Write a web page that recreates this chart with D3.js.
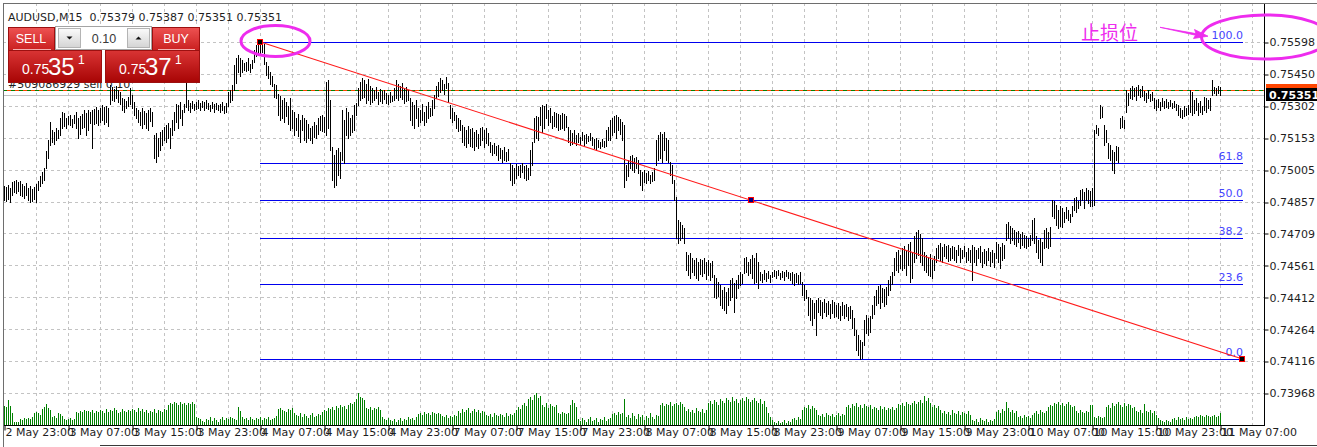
<!DOCTYPE html>
<html><head><meta charset="utf-8">
<script src="https://cdn.jsdelivr.net/npm/d3@7"></script>
<style>html,body{margin:0;padding:0;background:#fff;overflow:hidden}svg{display:block}</style>
</head><body><svg id="c" width="1317" height="447"></svg>
<script>
const symbol = "AUDUSD,M15";
const lastOHLC = ["0.75379","0.75387","0.75351","0.75351"];
const orderText = "#509086929 sell 0.10";
const lotSize = "0.10";
const sellQuote = ["0.75","35","1"];
const buyQuote = ["0.75","37","1"];
const bidPrice = 0.75351;
const orderPrice = 0.75377;
const priceTicks = [0.75598,0.75450,0.75302,0.75153,0.75005,0.74857,0.74709,0.74561,0.74412,0.74264,0.74116,0.73968];
const timeLabels = ["2 May 23:00","3 May 07:00","3 May 15:00","3 May 23:00","4 May 07:00","4 May 15:00","4 May 23:00","7 May 07:00","7 May 15:00","7 May 23:00","8 May 07:00","8 May 15:00","8 May 23:00","9 May 07:00","9 May 15:00","9 May 23:00","10 May 07:00","10 May 15:00","10 May 23:00","11 May 07:00"];
const barsPerLabel = 32;
const fibLevels = [100.0, 61.8, 50.0, 38.2, 23.6, 0.0];
const fibHigh = 0.75598, fibLow = 0.74126, fibStartBar = 128, fibEndBar = 619;
const noteText = "止损位";

const highs = [
0.74929,0.74925,0.74934,0.74920,0.74948,0.74953,0.74957,0.74948,0.74953,0.74939,
0.74929,0.74943,0.74920,0.74929,0.74915,0.74925,0.74939,0.74953,0.74976,0.74994,
0.75013,0.75092,0.75143,0.75227,0.75189,0.75180,0.75199,0.75189,0.75245,0.75273,
0.75268,0.75245,0.75254,0.75259,0.75240,0.75259,0.75273,0.75245,0.75254,0.75264,
0.75282,0.75268,0.75282,0.75273,0.75282,0.75287,0.75296,0.75282,0.75291,0.75305,
0.75296,0.75301,0.75291,0.75398,0.75389,0.75380,0.75394,0.75375,0.75366,0.75338,
0.75333,0.75324,0.75343,0.75384,0.75352,0.75319,0.75291,0.75282,0.75273,0.75291,
0.75278,0.75268,0.75282,0.75291,0.75273,0.75166,0.75175,0.75152,0.75180,0.75189,
0.75203,0.75213,0.75222,0.75199,0.75236,0.75273,0.75310,0.75305,0.75319,0.75282,
0.75310,0.75412,0.75329,0.75315,0.75324,0.75310,0.75319,0.75329,0.75315,0.75324,
0.75319,0.75329,0.75315,0.75305,0.75319,0.75310,0.75315,0.75305,0.75310,0.75319,
0.75301,0.75315,0.75366,0.75375,0.75398,0.75491,0.75524,0.75538,0.75524,0.75514,
0.75500,0.75505,0.75524,0.75496,0.75514,0.75561,0.75584,0.75593,0.75598,0.75589,
0.75589,0.75505,0.75486,0.75459,0.75440,0.75403,0.75398,0.75356,0.75347,0.75329,
0.75338,0.75319,0.75301,0.75338,0.75282,0.75273,0.75245,0.75264,0.75236,0.75259,
0.75245,0.75236,0.75217,0.75199,0.75208,0.75227,0.75213,0.75245,0.75254,0.75259,
0.75250,0.75412,0.75421,0.75329,0.75110,0.75073,0.75096,0.75106,0.75087,0.75282,
0.75236,0.75291,0.75273,0.75245,0.75259,0.75305,0.75315,0.75384,0.75412,0.75431,
0.75421,0.75403,0.75426,0.75394,0.75384,0.75375,0.75389,0.75366,0.75380,0.75370,
0.75375,0.75361,0.75352,0.75366,0.75347,0.75384,0.75421,0.75403,0.75394,0.75408,
0.75384,0.75389,0.75375,0.75338,0.75319,0.75305,0.75329,0.75291,0.75282,0.75310,
0.75273,0.75301,0.75319,0.75291,0.75329,0.75352,0.75394,0.75412,0.75431,0.75421,
0.75403,0.75435,0.75408,0.75305,0.75291,0.75273,0.75259,0.75245,0.75236,0.75213,
0.75203,0.75189,0.75208,0.75194,0.75199,0.75180,0.75189,0.75171,0.75199,0.75203,
0.75189,0.75199,0.75175,0.75134,0.75120,0.75129,0.75115,0.75120,0.75106,0.75096,
0.75110,0.75087,0.75101,0.75036,0.75027,0.75013,0.75031,0.75022,0.75027,0.75036,
0.75022,0.75027,0.75013,0.75096,0.75134,0.75245,0.75254,0.75250,0.75296,0.75305,
0.75301,0.75310,0.75282,0.75291,0.75254,0.75273,0.75268,0.75264,0.75259,0.75268,
0.75264,0.75254,0.75203,0.75189,0.75175,0.75189,0.75166,0.75175,0.75157,0.75180,
0.75166,0.75171,0.75161,0.75175,0.75157,0.75148,0.75152,0.75143,0.75134,0.75148,
0.75138,0.75189,0.75203,0.75236,0.75245,0.75254,0.75259,0.75250,0.75240,0.75227,
0.75213,0.75027,0.75050,0.75069,0.75073,0.75059,0.75064,0.75050,0.75004,0.74994,
0.75004,0.74990,0.74999,0.74980,0.74994,0.75013,0.75143,0.75166,0.75180,0.75171,
0.75180,0.75152,0.75143,0.75041,0.75027,0.74957,0.74878,0.74771,0.74762,0.74748,
0.74734,0.74623,0.74609,0.74618,0.74595,0.74586,0.74595,0.74576,0.74590,0.74586,
0.74595,0.74576,0.74586,0.74572,0.74581,0.74516,0.74502,0.74483,0.74469,0.74446,
0.74460,0.74437,0.74455,0.74493,0.74502,0.74479,0.74493,0.74516,0.74530,0.74520,
0.74595,0.74599,0.74576,0.74590,0.74609,0.74595,0.74618,0.74576,0.74530,0.74520,
0.74539,0.74525,0.74534,0.74516,0.74530,0.74539,0.74534,0.74539,0.74525,0.74534,
0.74530,0.74539,0.74530,0.74525,0.74530,0.74520,0.74525,0.74516,0.74530,0.74483,
0.74469,0.74446,0.74414,0.74409,0.74400,0.74386,0.74400,0.74409,0.74400,0.74390,
0.74404,0.74386,0.74395,0.74381,0.74400,0.74390,0.74377,0.74386,0.74372,0.74390,
0.74377,0.74381,0.74367,0.74372,0.74353,0.74316,0.74260,0.74237,0.74214,0.74205,
0.74307,0.74330,0.74316,0.74325,0.74377,0.74418,0.74446,0.74465,0.74469,0.74455,
0.74451,0.74460,0.74493,0.74511,0.74530,0.74595,0.74623,0.74632,0.74609,0.74641,
0.74651,0.74632,0.74660,0.74669,0.74623,0.74697,0.74716,0.74725,0.74706,0.74688,
0.74623,0.74609,0.74595,0.74613,0.74586,0.74604,0.74641,0.74655,0.74664,0.74646,
0.74660,0.74651,0.74655,0.74641,0.74651,0.74646,0.74632,0.74655,0.74641,0.74632,
0.74651,0.74623,0.74641,0.74632,0.74655,0.74646,0.74632,0.74641,0.74651,0.74623,
0.74637,0.74627,0.74641,0.74623,0.74632,0.74618,0.74669,0.74660,0.74646,0.74664,
0.74655,0.74753,0.74762,0.74743,0.74734,0.74725,0.74716,0.74720,0.74706,0.74716,
0.74702,0.74697,0.74688,0.74702,0.74771,0.74781,0.74697,0.74678,0.74688,0.74669,
0.74725,0.74734,0.74716,0.74739,0.74864,0.74860,0.74841,0.74818,0.74836,0.74827,
0.74809,0.74832,0.74818,0.74799,0.74836,0.74874,0.74878,0.74860,0.74911,0.74915,
0.74901,0.74920,0.74911,0.74906,0.74920,0.75189,0.75213,0.75199,0.75305,0.75296,
0.75213,0.75189,0.75129,0.75120,0.75096,0.75087,0.75115,0.75110,0.75245,0.75254,
0.75236,0.75375,0.75361,0.75384,0.75394,0.75384,0.75389,0.75398,0.75380,0.75394,
0.75370,0.75361,0.75375,0.75356,0.75366,0.75338,0.75329,0.75333,0.75319,0.75338,
0.75324,0.75333,0.75319,0.75329,0.75315,0.75324,0.75310,0.75305,0.75291,0.75282,
0.75301,0.75291,0.75305,0.75375,0.75366,0.75329,0.75338,0.75315,0.75324,0.75301,
0.75343,0.75338,0.75329,0.75338,0.75421,0.75389,0.75384,0.75394,0.75387];

const lows = [
0.74864,0.74860,0.74869,0.74855,0.74887,0.74901,0.74897,0.74906,0.74887,0.74883,
0.74874,0.74887,0.74864,0.74855,0.74860,0.74869,0.74855,0.74911,0.74929,0.74943,
0.74957,0.75013,0.75059,0.75120,0.75134,0.75124,0.75143,0.75152,0.75166,0.75199,
0.75208,0.75199,0.75217,0.75213,0.75203,0.75222,0.75199,0.75152,0.75171,0.75199,
0.75203,0.75166,0.75189,0.75222,0.75106,0.75217,0.75222,0.75213,0.75227,0.75236,
0.75217,0.75227,0.75208,0.75310,0.75329,0.75324,0.75338,0.75319,0.75310,0.75282,
0.75273,0.75291,0.75301,0.75310,0.75291,0.75259,0.75245,0.75227,0.75213,0.75199,
0.75217,0.75199,0.75189,0.75231,0.75208,0.75059,0.75041,0.75069,0.75096,0.75120,
0.75143,0.75134,0.75152,0.75106,0.75166,0.75189,0.75227,0.75199,0.75245,0.75213,
0.75273,0.75296,0.75282,0.75273,0.75291,0.75282,0.75287,0.75291,0.75282,0.75296,
0.75282,0.75291,0.75287,0.75278,0.75291,0.75273,0.75287,0.75282,0.75273,0.75282,
0.75268,0.75273,0.75301,0.75319,0.75329,0.75375,0.75408,0.75459,0.75440,0.75459,
0.75468,0.75463,0.75468,0.75459,0.75477,0.75505,0.75533,0.75542,0.75547,0.75551,
0.75496,0.75445,0.75431,0.75403,0.75394,0.75343,0.75338,0.75259,0.75236,0.75245,
0.75227,0.75254,0.75217,0.75189,0.75199,0.75166,0.75189,0.75161,0.75134,0.75189,
0.75143,0.75134,0.75152,0.75143,0.75129,0.75157,0.75152,0.75171,0.75189,0.75185,
0.75180,0.75166,0.75199,0.75096,0.74957,0.74925,0.74934,0.74980,0.74967,0.75050,
0.75036,0.75166,0.75152,0.75166,0.75180,0.75189,0.75259,0.75305,0.75329,0.75338,
0.75343,0.75315,0.75329,0.75310,0.75319,0.75329,0.75338,0.75310,0.75324,0.75315,
0.75333,0.75315,0.75310,0.75319,0.75324,0.75329,0.75338,0.75329,0.75343,0.75333,
0.75315,0.75324,0.75329,0.75236,0.75213,0.75199,0.75245,0.75208,0.75227,0.75236,
0.75213,0.75227,0.75245,0.75254,0.75259,0.75291,0.75338,0.75347,0.75366,0.75375,
0.75356,0.75384,0.75319,0.75245,0.75227,0.75236,0.75199,0.75185,0.75189,0.75134,
0.75120,0.75110,0.75129,0.75115,0.75110,0.75096,0.75115,0.75106,0.75120,0.75143,
0.75110,0.75129,0.75120,0.75087,0.75073,0.75082,0.75073,0.75050,0.75059,0.75041,
0.75050,0.75045,0.75050,0.74957,0.74934,0.74943,0.74967,0.74980,0.74971,0.74994,
0.74967,0.74957,0.74962,0.74980,0.75027,0.75134,0.75152,0.75143,0.75213,0.75180,
0.75199,0.75245,0.75213,0.75227,0.75199,0.75208,0.75203,0.75189,0.75194,0.75199,
0.75189,0.75203,0.75134,0.75120,0.75124,0.75129,0.75120,0.75134,0.75124,0.75143,
0.75120,0.75129,0.75138,0.75143,0.75120,0.75106,0.75096,0.75110,0.75106,0.75115,
0.75110,0.75115,0.75143,0.75143,0.75166,0.75180,0.75152,0.75189,0.75171,0.75143,
0.74925,0.74957,0.74976,0.75013,0.75004,0.74994,0.75013,0.74990,0.74934,0.74911,
0.74948,0.74943,0.74957,0.74943,0.74953,0.74957,0.75027,0.75050,0.75059,0.75041,
0.75096,0.75050,0.75041,0.74980,0.74943,0.74864,0.74688,0.74664,0.74678,0.74688,
0.74664,0.74539,0.74516,0.74502,0.74530,0.74516,0.74502,0.74493,0.74520,0.74511,
0.74525,0.74497,0.74516,0.74493,0.74507,0.74414,0.74409,0.74418,0.74377,0.74363,
0.74353,0.74339,0.74377,0.74400,0.74414,0.74344,0.74409,0.74455,0.74469,0.74479,
0.74525,0.74530,0.74516,0.74525,0.74502,0.74479,0.74483,0.74455,0.74493,0.74483,
0.74497,0.74488,0.74502,0.74483,0.74507,0.74511,0.74502,0.74516,0.74497,0.74507,
0.74493,0.74511,0.74502,0.74493,0.74479,0.74469,0.74483,0.74474,0.74479,0.74423,
0.74400,0.74409,0.74330,0.74307,0.74284,0.74316,0.74237,0.74344,0.74330,0.74316,
0.74344,0.74325,0.74335,0.74316,0.74339,0.74321,0.74325,0.74316,0.74307,0.74330,
0.74316,0.74325,0.74307,0.74316,0.74270,0.74237,0.74168,0.74144,0.74126,0.74130,
0.74191,0.74246,0.74237,0.74251,0.74316,0.74335,0.74377,0.74386,0.74363,0.74390,
0.74372,0.74381,0.74423,0.74446,0.74474,0.74516,0.74539,0.74530,0.74548,0.74539,
0.74548,0.74516,0.74562,0.74483,0.74502,0.74576,0.74595,0.74609,0.74576,0.74562,
0.74539,0.74530,0.74516,0.74511,0.74502,0.74539,0.74576,0.74595,0.74586,0.74576,
0.74604,0.74595,0.74581,0.74586,0.74595,0.74586,0.74576,0.74609,0.74576,0.74595,
0.74604,0.74576,0.74586,0.74576,0.74493,0.74576,0.74562,0.74595,0.74576,0.74553,
0.74572,0.74562,0.74586,0.74558,0.74576,0.74553,0.74595,0.74576,0.74548,0.74586,
0.74595,0.74678,0.74688,0.74664,0.74678,0.74660,0.74651,0.74669,0.74641,0.74655,
0.74646,0.74641,0.74651,0.74655,0.74678,0.74664,0.74623,0.74595,0.74576,0.74562,
0.74641,0.74646,0.74641,0.74651,0.74790,0.74781,0.74748,0.74734,0.74743,0.74739,
0.74762,0.74781,0.74771,0.74762,0.74790,0.74818,0.74809,0.74827,0.74841,0.74864,
0.74827,0.74864,0.74850,0.74836,0.74836,0.74841,0.75175,0.75166,0.75245,0.75250,
0.75120,0.75134,0.75059,0.75050,0.75004,0.74990,0.75050,0.75041,0.75199,0.75203,
0.75199,0.75273,0.75305,0.75338,0.75333,0.75347,0.75329,0.75352,0.75343,0.75347,
0.75329,0.75319,0.75338,0.75324,0.75329,0.75291,0.75282,0.75296,0.75282,0.75301,
0.75291,0.75296,0.75291,0.75301,0.75291,0.75296,0.75282,0.75259,0.75250,0.75245,
0.75254,0.75259,0.75264,0.75273,0.75259,0.75268,0.75282,0.75259,0.75273,0.75264,
0.75282,0.75273,0.75291,0.75282,0.75352,0.75361,0.75352,0.75361,0.75351];

const volumes = [
760,720,1000,760,480,120,120,120,240,200,280,240,280,240,320,480,520,480,400,
640,720,840,680,600,320,360,280,480,440,360,240,200,240,280,200,240,
520,480,560,520,600,560,560,520,600,480,560,520,600,
560,480,640,520,600,560,680,600,480,520,640,560,520,600,560,640,
600,520,680,560,640,520,600,480,560,520,640,480,600,560,520,640,600,
800,880,840,920,880,800,920,840,880,800,880,840,920,840,320,280,240,
160,120,240,200,320,160,280,200,120,240,320,200,280,240,320,280,240,200,720,560,
320,240,280,200,320,240,200,280,240,320,200,280,240,320,200,240,280,360,
640,680,600,560,520,640,600,680,480,400,360,480,320,440,360,280,400,480,320,360,440,400,
520,600,560,680,640,720,600,760,680,800,720,760,640,800,880,840,920,
1040,1280,1120,1080,1000,680,640,720,600,680,640,720,600,320,240,200,280,200,
160,240,120,200,280,160,240,200,320,240,280,200,320,
440,480,400,520,440,480,400,520,480,440,480,440,360,320,400,280,360,320,400,360,
560,480,640,520,600,680,480,560,640,520,600,480,560,520,
400,360,440,320,480,400,360,440,400,320,480,360,440,400,480,
600,720,640,800,880,760,1040,1120,1000,1200,1280,1080,1160,
800,720,880,680,840,760,720,800,480,440,520,480,440,480,800,1000,880,720,
240,160,280,200,120,240,320,160,200,280,120,240,200,320,160,240,280,
440,480,400,520,440,480,1040,
320,400,280,480,360,240,440,320,400,200,360,280,480,320,240,400,360,
800,880,760,840,800,920,760,840,880,800,920,840,720,
560,640,520,600,480,680,560,520,640,480,600,
880,960,840,1000,920,800,1040,960,880,1080,1000,920,1120,960,1040,880,1000,1080,960,1120,1040,920,1000,1080,960,880,1040,840,960,
720,480,320,200,120,80,160,80,120,200,80,160,120,240,280,200,320,240,
600,720,680,800,640,760,680,600,400,360,440,320,480,400,360,440,320,400,480,360,440,400,
720,800,680,840,760,880,720,800,680,840,760,720,800,
640,720,680,600,760,640,720,600,680,640,720,600,680,
840,800,880,760,920,840,800,880,960,840,920,1000,880,1160,960,
1080,880,720,800,680,760,600,
480,560,440,520,400,600,480,440,560,400,520,480,440,560,400,
200,160,240,120,280,200,160,240,120,200,160,240,
520,600,480,640,560,920,680,520,600,480,560,
320,360,280,400,320,360,280,400,480,560,440,600,520,480,560,
720,800,760,880,840,920,800,880,760,840,920,800,720,760,
560,480,600,520,480,560,520,800,800,320,280,360,320,280,320,
720,800,680,880,760,840,920,800,720,880,760,840,800,680,720,
560,520,600,480,840,560,520,600,480,560,400,280,200,160,120,200,160,120,
240,280,200,320,240,280,200,320,240,280,240,320,
360,320,400,360,320,400,360,320,360,400,320,360,480];

// ---------------- drawing ----------------
const W = 1317, H = 447;
const P = {l:3, t:3, r:1264, b:425};
const FONT = "DejaVu Sans, sans-serif";
const svg = d3.select("#c");
const defs = svg.append("defs");
defs.append("clipPath").attr("id","clip").append("rect")
  .attr("x",P.l+1).attr("y",P.t+1).attr("width",P.r-P.l-1).attr("height",P.b-P.t-1);

const x = d3.scaleLinear().domain([0,1]).range([4,6]);           // bar index -> px
const y = d3.scaleLinear().domain([d3.min(priceTicks), d3.max(priceTicks)]).range([393,42]);
const yv = d3.scaleLinear().domain([0,1600]).range([P.b,P.b-40]);
const R = v => Math.round(v);

svg.append("rect").attr("width",W).attr("height",H).attr("fill","#ffffff");

const plot = svg.append("g").attr("clip-path","url(#clip)");

// grid
const grid = plot.append("g").attr("stroke","#c3c3c3").attr("stroke-dasharray","3,3").attr("shape-rendering","crispEdges");
priceTicks.forEach(t => grid.append("line").attr("x1",P.l).attr("x2",P.r).attr("y1",R(y(t))+0.5).attr("y2",R(y(t))+0.5));
for (let i = 16; x(i) < P.r; i += 16) grid.append("line").attr("x1",x(i)+0.5).attr("x2",x(i)+0.5).attr("y1",P.t).attr("y2",P.b);

// volumes
plot.append("g").attr("fill","#008000").attr("shape-rendering","crispEdges")
  .selectAll("rect").data(volumes).join("rect")
  .attr("x",(d,i)=>x(i)).attr("width",1)
  .attr("y",d=>R(yv(d))).attr("height",d=>P.b-R(yv(d)));

// fibonacci levels
const fibG = plot.append("g");
const fx1 = x(fibStartBar), fx2 = x(fibEndBar);
fibLevels.forEach(l => {
  const p = fibLow + (fibHigh - fibLow) * l / 100;
  const yy = R(y(p)) + 0.5;
  fibG.append("line").attr("x1",fx1).attr("x2",fx2+1).attr("y1",yy).attr("y2",yy)
    .attr("stroke","#0000ee").attr("stroke-width",1).attr("shape-rendering","crispEdges");
  fibG.append("text").attr("x",fx2+1).attr("y",yy-4).attr("text-anchor","end")
    .attr("font-family",FONT).attr("font-size",11).attr("fill","#4646ff").text(l.toFixed(1));
});

// bid line & order lines
const yb = R(y(bidPrice)) + 0.5;
plot.append("line").attr("x1",P.l).attr("x2",P.r).attr("y1",yb).attr("y2",yb)
  .attr("stroke","#c0c0c0").attr("shape-rendering","crispEdges");
const yo = R(y(orderPrice)) + 0.5;
plot.append("line").attr("x1",P.l).attr("x2",P.r).attr("y1",yo).attr("y2",yo)
  .attr("stroke","#ff4500").attr("stroke-dasharray","4,4").attr("stroke-dashoffset",4).attr("shape-rendering","crispEdges");
plot.append("line").attr("x1",P.l).attr("x2",P.r).attr("y1",yo).attr("y2",yo)
  .attr("stroke","#008000").attr("stroke-dasharray","4,4").attr("shape-rendering","crispEdges");

// price bars
plot.append("g").attr("fill","#000").attr("shape-rendering","crispEdges")
  .selectAll("rect").data(highs).join("rect")
  .attr("x",(d,i)=>x(i)).attr("width",1)
  .attr("y",d=>R(y(d)))
  .attr("height",(d,i)=>Math.max(1, R(y(lows[i])) - R(y(d)) + 1));

// trend line of the fibo object
const tx1 = x(fibStartBar)+0.5, ty1 = y(fibHigh), tx2 = x(fibEndBar)+0.5, ty2 = y(fibLow);
plot.append("line").attr("x1",tx1).attr("y1",ty1).attr("x2",tx2).attr("y2",ty2)
  .attr("stroke","#ff1a1a").attr("stroke-width",1.1);
const midBar = (fibStartBar + fibEndBar) / 2, midP = (fibHigh + fibLow) / 2;
[[x(fibStartBar), fibHigh, "#000"], [x(fibEndBar), fibLow, "#000"], [x(midBar), midP, "#000080"]].forEach(([px, p, c]) => {
  plot.append("rect").attr("x",R(px)-2.5).attr("y",R(y(p))-2.5).attr("width",5).attr("height",5)
    .attr("fill",c).attr("stroke","#ff0000").attr("stroke-width",1);
});

// title & order text
const txt = svg.append("g").attr("font-family",FONT).attr("font-size",11).attr("fill","#1e1e1e");
txt.append("text").attr("x",8).attr("y",20.5).attr("xml:space","preserve")
  .text(symbol + "  " + lastOHLC.join(" "));
txt.append("text").attr("x",8).attr("y",yo-3).text(orderText);

// one-click trading panel
function grad(id, c1, c2) {
  const g = defs.append("linearGradient").attr("id",id).attr("x1",0).attr("y1",0).attr("x2",0).attr("y2",1);
  g.append("stop").attr("offset","0%").attr("stop-color",c1);
  g.append("stop").attr("offset","100%").attr("stop-color",c2);
}
grad("gTab","#ee5252","#c91f1f");
grad("gBig","#d93434","#a70404");
grad("gBtn","#fbfbfb","#d4d4d4");
const pan = svg.append("g").attr("font-family","Liberation Sans, Arial, sans-serif").attr("fill","#fff");
function redBox(x0, y0, w, h, g) {
  pan.append("rect").attr("x",x0+0.5).attr("y",y0+0.5).attr("width",w-1).attr("height",h-1)
    .attr("fill",`url(#${g})`).attr("stroke","#9c1010").attr("stroke-width",1);
}
redBox(8, 27, 47, 24, "gTab");
redBox(8, 50, 94, 33, "gBig");
redBox(152, 27, 48, 24, "gTab");
redBox(105, 50, 95, 33, "gBig");
pan.append("text").attr("x",31).attr("y",43).attr("text-anchor","middle").attr("font-size",12.5).text("SELL");
pan.append("line").attr("x1",13).attr("x2",51).attr("y1",49.5).attr("y2",49.5).attr("stroke","#f4b0b0");
pan.append("text").attr("x",176).attr("y",43).attr("text-anchor","middle").attr("font-size",12.5).text("BUY");
pan.append("line").attr("x1",158).attr("x2",195).attr("y1",49.5).attr("y2",49.5).attr("stroke","#f4b0b0");
function quote(x0, q) {
  pan.append("text").attr("x",x0).attr("y",74).attr("font-size",14).text(q[0]);
  pan.append("text").attr("x",x0+26).attr("y",74.5).attr("font-size",24).text(q[1]);
  pan.append("text").attr("x",x0+56).attr("y",64).attr("font-size",12).text(q[2]);
}
quote(22, sellQuote);
quote(119, buyQuote);
// lot spinner
pan.append("rect").attr("x",55.5).attr("y",26.5).attr("width",96).attr("height",23).attr("fill","#fff").attr("stroke","#a4a4a4");
[[58,"d"],[127,"u"]].forEach(([bx, dir]) => {
  pan.append("rect").attr("x",bx+0.5).attr("y",28.5).attr("width",22).attr("height",19)
    .attr("fill","url(#gBtn)").attr("stroke","#b4b4b4");
  const cx = bx + 11.5, cy = 38;
  const pts = dir === "d" ? [[cx-3,cy-1.5],[cx+3,cy-1.5],[cx,cy+1.5]] : [[cx-3,cy+1.5],[cx+3,cy+1.5],[cx,cy-1.5]];
  pan.append("path").attr("d","M"+pts.map(p=>p.join(",")).join("L")+"Z").attr("fill","#111");
});
pan.append("text").attr("x",104).attr("y",43).attr("text-anchor","middle").attr("font-size",12.5)
  .attr("fill","#3a3a3a").text(lotSize);

// axes
const axR = svg.append("g").attr("transform",`translate(${P.r+0.5},0)`)
  .call(d3.axisRight(y).tickValues(priceTicks).tickFormat(d3.format(".5f")).tickSize(4).tickSizeOuter(0));
axR.select(".domain").remove();
axR.selectAll(".tick line").attr("stroke","#000").attr("transform",d=>`translate(0,${R(y(d))+0.5-y(d)})`);
axR.selectAll(".tick text").attr("x",5).attr("dy","0.35em").attr("font-family",FONT).attr("font-size",11).attr("fill","#1e1e1e");

const tickIdx = timeLabels.map((d,i)=>i*barsPerLabel);
const axB = svg.append("g").attr("transform",`translate(0.5,${P.b+0.5})`)
  .call(d3.axisBottom(x).tickValues(tickIdx).tickFormat((d,i)=>timeLabels[i]).tickSize(5).tickSizeOuter(0));
axB.select(".domain").remove();
axB.selectAll(".tick line").attr("stroke","#000");
axB.selectAll(".tick text").attr("text-anchor","start").attr("x",0.5).attr("y",3).attr("dy","0.71em")
  .attr("font-family",FONT).attr("font-size",11).attr("fill","#1e1e1e");

// frame
const fr = svg.append("g").attr("shape-rendering","crispEdges");
fr.append("line").attr("x1",P.l+0.5).attr("x2",P.r+0.5).attr("y1",P.b+0.5).attr("y2",P.b+0.5).attr("stroke","#000");
fr.append("line").attr("x1",P.r+0.5).attr("x2",P.r+0.5).attr("y1",P.t).attr("y2",P.b+1).attr("stroke","#000");
fr.append("line").attr("x1",P.l).attr("x2",W).attr("y1",P.t+0.5).attr("y2",P.t+0.5).attr("stroke","#6e6e6e");
fr.append("line").attr("x1",P.l+0.5).attr("x2",P.l+0.5).attr("y1",P.t).attr("y2",H).attr("stroke","#6e6e6e");
fr.append("line").attr("x1",100).attr("x2",W).attr("y1",H-1.5).attr("y2",H-1.5).attr("stroke","#3a3a3a");

// price labels on the axis
svg.append("rect").attr("x",P.r+2).attr("y",R(y(orderPrice))-6).attr("width",W-P.r-2).attr("height",12).attr("fill","#ff4500");
svg.append("rect").attr("x",P.r+2).attr("y",R(y(bidPrice))-7).attr("width",W-P.r-2).attr("height",13).attr("fill","#000");
svg.append("text").attr("x",P.r+5).attr("y",R(y(bidPrice))+4).attr("font-family",FONT).attr("font-size",11)
  .attr("font-weight","bold").attr("fill","#fff").text(d3.format(".5f")(bidPrice));

// hand-drawn annotations
const mag = "#ee2cee";
const ann = svg.append("g").attr("fill","none").attr("stroke",mag).attr("stroke-width",3);
ann.append("ellipse").attr("cx",x(fibStartBar)+15.5).attr("cy",y(fibHigh)-1).attr("rx",34.5).attr("ry",15.5);
ann.append("ellipse").attr("cx",1265.5).attr("cy",37).attr("rx",64).attr("ry",22);
svg.append("path").attr("d","M1160,27.3 L1196,33.6 L1194.5,29.5 L1208,36.2 L1193.5,38.5 L1195.5,35.2 Z")
  .attr("fill",mag).attr("stroke",mag).attr("stroke-width",0.8).attr("stroke-linejoin","round");
svg.append("text").attr("x",1081).attr("y",39.5).attr("font-family","Noto Sans CJK SC, sans-serif")
  .attr("font-size",19).attr("fill",mag).text(noteText);
</script>
</body></html>
